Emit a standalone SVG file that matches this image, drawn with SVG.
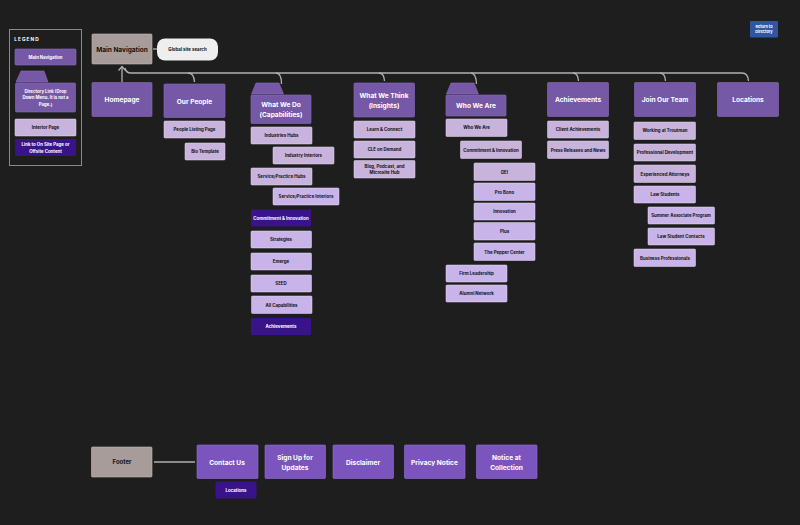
<svg xmlns="http://www.w3.org/2000/svg" width="800" height="525" viewBox="0 0 800 525">
<style>
text{font-family:"Inter","Liberation Sans",sans-serif;text-anchor:middle;font-weight:700}
.m rect,.m path{fill:#7558a6;stroke:#8a6fb8;stroke-width:.6}
.m text{fill:#fff;font-size:6.600px}
.f rect{fill:#7b55bd;stroke:#9070d0;stroke-width:.6}
.f text{fill:#fff;font-size:6.600px}
.i rect{fill:#c7b3dc;stroke:#e6dcf0;stroke-width:.5}
.j rect{fill:#c9b4ea;stroke:#e6dcf5;stroke-width:.5}
.i text,.j text{fill:#111;font-size:4.400px}
.d rect{fill:#39138a}
.d text{fill:#fff;font-size:4.400px}
.g rect{fill:#a79c9a;stroke:#c4bbb9;stroke-width:.6}
.g text{fill:#111}
.s text{font-size:4.300px}
.c path{fill:none;stroke:#b0b0b0;stroke-width:1.300}
</style>
<rect width="800" height="525" fill="#1e1e1e"/>
<g id="legend">
<rect x="9.500" y="29.500" width="72" height="136" fill="none" stroke="#8a8a8a" stroke-width="1"/>
<text x="27" y="40.500" fill="#fff" font-size="4.800" letter-spacing="1">LEGEND</text>
<g class="m s"><rect x="15" y="49" width="61" height="16" rx="1"/><text x="45.500" y="58.500" style="font-size:4.300px">Main Navigation</text></g>
<g class="m s"><path d="M16 82L21 71H44L48 82Z"/><rect x="15.500" y="83" width="60" height="29" rx="1"/><text x="45.500" y="92.500" style="font-size:4.300px">Directory Link (Drop</text><text x="45.500" y="99" style="font-size:4.300px">Down Menu. It is not a</text><text x="45.500" y="105.800" style="font-size:4.300px">Page.)</text></g>
<g class="i"><rect x="15" y="119" width="61" height="17" rx="1"/><text x="45.500" y="128.800">Interior Page</text></g>
<g class="d"><rect x="15" y="139" width="61" height="17" rx="1"/><text x="45.500" y="146">Link to On Site Page or</text><text x="45.500" y="152.600">Offsite Content</text></g>
</g>
<g id="return-to-directory"><rect x="750" y="21" width="28" height="16.500" rx="1" fill="#2f55a4"/><text x="764" y="28" fill="#fff" font-size="3.800">Return to</text><text x="764" y="32.500" fill="#fff" font-size="3.800">Directory</text></g>
<g id="connectors" class="c">
<path d="M122 82V67"/>
<path d="M118.500 70.500L122 66.500L125.500 70.500" stroke="#ddd"/>
<path d="M125 68Q126 73 131 73H742Q748 73 748.500 81"/>
<path d="M188 73Q194 73 194.500 82"/>
<path d="M276 73Q281.500 73 281.500 84"/>
<path d="M379 73Q384 73 384.500 81"/>
<path d="M471 73Q476 73 476.500 84"/>
<path d="M573 73Q578 73 578.500 81"/>
<path d="M660 73Q665 73 665.500 81"/>
<path d="M154 462H195"/>
<path d="M153 49H157"/>
</g>
<g id="main-navigation" class="g"><rect x="92" y="34" width="60" height="30" rx="1"/><text x="122" y="51.500" font-size="6.500">Main Navigation</text></g>
<g id="global-search"><rect x="157" y="38.500" width="61" height="22" rx="8" fill="#eee"/><text x="187.500" y="51" font-size="4.400" fill="#111">Global site search</text></g>
<g id="homepage" class="m"><rect x="92" y="82.500" width="60" height="34" rx="1"/><text x="122" y="102">Homepage</text></g>
<g id="our-people" class="m"><rect x="164" y="84" width="61" height="33.500" rx="1"/><text x="194.500" y="103.500">Our People</text></g>
<g id="people-listing" class="i"><rect x="164" y="121" width="61" height="17" rx="1"/><text x="194.500" y="131">People Listing Page</text></g>
<g id="bio-template" class="i"><rect x="185" y="143" width="40" height="17" rx="1"/><text x="205" y="153">Bio Template</text></g>
<g id="what-we-do" class="m"><path d="M251.500 94L256 83H279L283.500 94Z"/><rect x="251" y="95" width="60" height="28.500" rx="1"/><text x="281" y="106.800">What We Do</text><text x="281" y="116.800">(Capabilities)</text></g>
<g id="industries-hubs" class="i"><rect x="251" y="127" width="61" height="17" rx="1"/><text x="281.500" y="137.200">Industries Hubs</text></g>
<g id="industry-interiors" class="i"><rect x="273" y="147" width="61" height="17" rx="1"/><text x="303.500" y="157">Industry Interiors</text></g>
<g id="service-hubs" class="i"><rect x="251" y="168" width="61" height="17" rx="1"/><text x="281.500" y="178">Service/Practice Hubs</text></g>
<g id="service-interiors" class="j"><rect x="273" y="188" width="66" height="17" rx="1"/><text x="306" y="198">Service/Practice Interiors</text></g>
<g id="wwd-commitment" class="d"><rect x="251" y="209.500" width="60" height="17" rx="1"/><text x="281" y="219.500">Commitment &amp; Innovation</text></g>
<g id="strategies" class="j"><rect x="251" y="231" width="60.500" height="17" rx="1"/><text x="281" y="241.300">Strategies</text></g>
<g id="emerge" class="j"><rect x="251" y="253" width="60.500" height="17" rx="1"/><text x="281" y="263">Emerge</text></g>
<g id="seed" class="j"><rect x="251" y="275" width="60.500" height="17" rx="1"/><text x="281" y="285">SEED</text></g>
<g id="all-capabilities" class="j"><rect x="251.500" y="296" width="60.500" height="17.500" rx="1"/><text x="281.500" y="306.500">All Capabilities</text></g>
<g id="wwd-achievements" class="d"><rect x="251" y="318" width="60" height="17" rx="1"/><text x="281" y="328">Achievements</text></g>
<g id="what-we-think" class="m"><rect x="354" y="83" width="60.500" height="34" rx="1"/><text x="384" y="97.500">What We Think</text><text x="384" y="107.500">(Insights)</text></g>
<g id="learn-connect" class="i"><rect x="354" y="121" width="61" height="17" rx="1"/><text x="384.500" y="131">Learn &amp; Connect</text></g>
<g id="cle" class="i"><rect x="354" y="141" width="61" height="17" rx="1"/><text x="384.500" y="150.800">CLE on Demand</text></g>
<g id="blog" class="i"><rect x="354" y="160.500" width="61" height="17.500" rx="1"/><text x="384.500" y="167.500">Blog, Podcast, and</text><text x="384.500" y="174">Microsite Hub</text></g>
<g id="who-we-are" class="m"><path d="M446.500 94L451 83H474L478.500 94Z"/><rect x="446" y="95" width="60" height="21" rx="1"/><text x="476" y="108">Who We Are</text></g>
<g id="who-we-are-child" class="i"><rect x="446" y="119" width="61" height="17.500" rx="1"/><text x="476.500" y="129.400">Who We Are</text></g>
<g id="wwa-commitment" class="i"><rect x="460.500" y="141" width="61" height="17.500" rx="1"/><text x="491" y="151.500">Commitment &amp; Innovation</text></g>
<g id="dei" class="i"><rect x="474" y="163" width="61" height="17.500" rx="1"/><text x="504.500" y="173.500">DEI</text></g>
<g id="pro-bono" class="j"><rect x="474" y="183" width="61" height="17.500" rx="1"/><text x="504.500" y="193.500">Pro Bono</text></g>
<g id="innovation" class="j"><rect x="474" y="203" width="61" height="17" rx="1"/><text x="504.500" y="213">Innovation</text></g>
<g id="plus" class="j"><rect x="474" y="222.500" width="61" height="17.500" rx="1"/><text x="504.500" y="232.800">Plus</text></g>
<g id="pepper" class="j"><rect x="474" y="243" width="61" height="17.500" rx="1"/><text x="504.500" y="253.500">The Pepper Center</text></g>
<g id="firm-leadership" class="j"><rect x="446" y="265" width="61" height="17" rx="1"/><text x="476.500" y="275">Firm Leadership</text></g>
<g id="alumni" class="j"><rect x="446" y="285" width="61" height="17" rx="1"/><text x="476.500" y="295">Alumni Network</text></g>
<g id="achievements" class="m"><rect x="547.500" y="82.500" width="61" height="34" rx="1"/><text x="578" y="102">Achievements</text></g>
<g id="client-achievements" class="i"><rect x="547.500" y="121" width="61" height="17" rx="1"/><text x="578" y="131">Client Achievements</text></g>
<g id="press" class="i"><rect x="547.500" y="141" width="61" height="17.500" rx="1"/><text x="578" y="151.500">Press Releases and News</text></g>
<g id="join-our-team" class="m"><rect x="634.500" y="82.500" width="61" height="34" rx="1"/><text x="665" y="102">Join Our Team</text></g>
<g id="working" class="i"><rect x="634" y="122" width="61.500" height="17.500" rx="1"/><text x="665" y="132.300">Working at Troutman</text></g>
<g id="professional" class="i"><rect x="634" y="144" width="61.500" height="17" rx="1"/><text x="665" y="154">Professional Development</text></g>
<g id="experienced" class="i"><rect x="634" y="165" width="61.500" height="17.500" rx="1"/><text x="665" y="175.500">Experienced Attorneys</text></g>
<g id="law-students" class="j"><rect x="634" y="186" width="61.500" height="17" rx="1"/><text x="665" y="196.300">Law Students</text></g>
<g id="summer" class="j"><rect x="648" y="207" width="66.500" height="17" rx="1"/><text x="681" y="217.300">Summer Associate Program</text></g>
<g id="law-contacts" class="j"><rect x="648" y="228" width="66.500" height="17" rx="1"/><text x="681" y="238">Law Student Contacts</text></g>
<g id="business" class="j"><rect x="634" y="249" width="61.500" height="17.500" rx="1"/><text x="665" y="259.500">Business Professionals</text></g>
<g id="locations" class="m"><rect x="717.500" y="82.500" width="61" height="34" rx="1"/><text x="748" y="102">Locations</text></g>
<g id="footer" class="g"><rect x="91.500" y="447" width="60.500" height="30" rx="1"/><text x="122" y="464" font-size="6">Footer</text></g>
<g id="contact-us" class="f"><rect x="197" y="445" width="61" height="33.500" rx="1"/><text x="227" y="464.500">Contact Us</text></g>
<g id="sign-up" class="f"><rect x="265" y="445" width="60.500" height="33.500" rx="1"/><text x="295" y="459.500">Sign Up for</text><text x="295" y="469.500">Updates</text></g>
<g id="disclaimer" class="f"><rect x="333" y="445" width="60.500" height="33.500" rx="1"/><text x="363" y="464.500">Disclaimer</text></g>
<g id="privacy" class="f"><rect x="404.500" y="445" width="60.500" height="33.500" rx="1"/><text x="434.500" y="464.500">Privacy Notice</text></g>
<g id="notice" class="f"><rect x="476.500" y="445" width="60.500" height="33.500" rx="1"/><text x="506.500" y="459.500">Notice at</text><text x="506.500" y="469.500">Collection</text></g>
<g id="footer-locations" class="d"><rect x="215.500" y="481.500" width="41" height="17" rx="1"/><text x="236" y="491.500">Locations</text></g>
</svg>
